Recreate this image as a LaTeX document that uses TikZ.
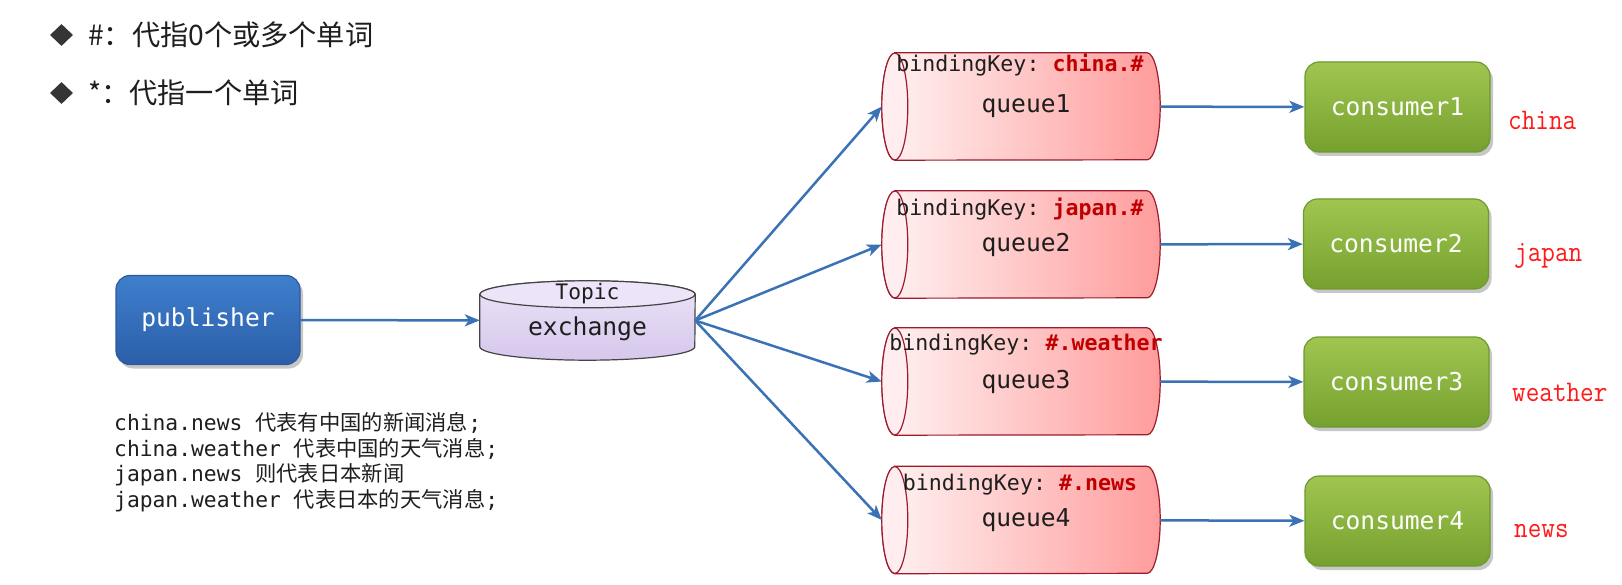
\documentclass[tikz,border=0pt]{standalone}
\usepackage{fontspec}
\setmonofont{DejaVu Sans Mono}
\newfontfamily\cjkfont{Noto Sans CJK SC}
\newfontfamily\tagfont[FakeStretch=0.88]{Latin Modern Mono}
\usetikzlibrary{shapes.geometric,arrows.meta,shadows,backgrounds,calc}

\definecolor{flowblue}{HTML}{3B72B5}
\definecolor{pubtop}{HTML}{3F7FCD}
\definecolor{pubbot}{HTML}{2B5EA8}
\definecolor{pubedge}{HTML}{2C5A9A}
\definecolor{constop}{HTML}{A0C650}
\definecolor{consbot}{HTML}{76A02F}
\definecolor{consedge}{HTML}{6E9A2E}
\definecolor{qleft}{HTML}{FFF3F3}
\definecolor{qright}{HTML}{FF9C9C}
\definecolor{qface}{HTML}{FFEDEF}
\definecolor{qedge}{HTML}{9B1C2C}
\definecolor{extop}{HTML}{ECE4F8}
\definecolor{exbot}{HTML}{D6C7EC}
\definecolor{exedge}{HTML}{444444}
\definecolor{keyred}{HTML}{C00000}
\definecolor{tagred}{HTML}{FF1A1A}
\definecolor{inkgray}{HTML}{1E1E1E}

% horizontal queue cylinder with its open face on the left
\newcommand\drawqueue[1]{%
  \path[left color=qleft, right color=qright, draw=qedge, line width=1.2pt]
    ($(#1.north west)+(13pt,0)$) -- ($(#1.north east)+(-13pt,0)$)
    arc[start angle=90, end angle=-90, x radius=13pt, y radius=53.5pt]
    -- ($(#1.south west)+(13pt,0)$)
    arc[start angle=270, end angle=90, x radius=13pt, y radius=53.5pt] -- cycle;
  \filldraw[fill=qface, draw=qedge, line width=1.2pt]
    ($(#1.west)+(13pt,0)$) ellipse[x radius=13pt, y radius=53.5pt];
}

\begin{document}
\begin{tikzpicture}[x=1pt, y=1pt,
  bigbox/.style={rounded corners=14pt, inner sep=0pt, text=white,
    font=\ttfamily\fontsize{24.6}{28}\selectfont,
    drop shadow={shadow xshift=3pt, shadow yshift=-4pt, opacity=0.22, fill=black}},
  pubbox/.style={bigbox, minimum width=184pt, minimum height=89pt,
    top color=pubtop, bottom color=pubbot, draw=pubedge, line width=1.2pt},
  consbox/.style={bigbox, minimum width=185pt, minimum height=90pt,
    top color=constop, bottom color=consbot, draw=consedge, line width=1.2pt},
  qslot/.style={minimum width=278pt, minimum height=107pt, inner sep=0pt,
    font=\ttfamily\fontsize{24.6}{28}\selectfont, text=inkgray},
  keytext/.style={inner sep=0pt, font=\ttfamily\fontsize{21.6}{24}\selectfont, text=inkgray},
  tagtext/.style={anchor=west, inner sep=0pt, text=tagred, font=\tagfont\fontsize{30}{32}\selectfont},
  desctext/.style={anchor=west, inner sep=0pt, text=inkgray, font=\ttfamily\fontsize{21.3}{26}\selectfont},
  bullettext/.style={anchor=west, inner sep=0pt, text=inkgray, font=\cjkfont\fontsize{28.2}{31}\selectfont},
  bulletmark/.style={diamond, fill=inkgray!90, minimum width=23pt, minimum height=22pt, inner sep=0pt},
  flow/.style={draw=flowblue, line width=2.5pt, -{Stealth[length=15pt, width=12pt, inset=4pt]}}
]
\useasboundingbox (0,0) rectangle (1622,-585);
\begin{scope}[on background layer]
  \fill[white] (0,0) rectangle (1622,-585);
\end{scope}

% legend for the wildcard characters
\node[bulletmark] (b1) at (61.5,-35) {};
\node[bullettext] (r1) at (88,-35) {\#：代指0个或多个单词};
\node[bulletmark] (b2) at (61.5,-93) {};
\node[bullettext] (r2) at (88,-93) {*：代指一个单词};

% producer and exchange
\node[pubbox] (pub) at (208,-320) {publisher};
\node[minimum width=215pt, minimum height=79pt, inner sep=0pt] (ex) at (587.5,-320.5) {};
\node[inner sep=0pt, text=inkgray, font=\ttfamily\fontsize{21.3}{24}\selectfont] (tp) at (587.5,-294) {Topic};
\node[inner sep=0pt, text=inkgray, font=\ttfamily\fontsize{24.7}{28}\selectfont] (exl) at (587.5,-329) {exchange};

% queues
\node[qslot] (q1) at (1021,-106.5) {\hspace*{10pt}\raisebox{-3pt}{queue1}};
\node[qslot] (q2) at (1021,-244.5) {\hspace*{10pt}\raisebox{-3pt}{queue2}};
\node[qslot] (q3) at (1021,-381.5) {\hspace*{10pt}\raisebox{-3pt}{queue3}};
\node[qslot] (q4) at (1021,-520)   {\hspace*{10pt}\raisebox{-3pt}{queue4}};

\node[keytext] (k1) at (1020,-65)  {bindingKey: \textcolor{keyred}{\bfseries china.\#}};
\node[keytext] (k2) at (1020,-209) {bindingKey: \textcolor{keyred}{\bfseries japan.\#}};
\node[keytext] (k3) at (1026,-345) {bindingKey: \textcolor{keyred}{\bfseries \#.weather}};
\node[keytext] (k4) at (1020,-485) {bindingKey: \textcolor{keyred}{\bfseries \#.news}};

% consumers
\node[consbox] (c1) at (1397.5,-107) {consumer1};
\node[consbox] (c2) at (1396,-244)   {consumer2};
\node[consbox] (c3) at (1396.5,-382) {consumer3};
\node[consbox] (c4) at (1397.5,-521) {consumer4};

\node[tagtext] (t1) at (1508,-120) {china};
\node[tagtext] (t2) at (1514,-256) {japan};
\node[tagtext] (t3) at (1512,-392) {weather};
\node[tagtext] (t4) at (1514,-531) {news};

% routing keys
\node[desctext] (d1) at (114,-423) {china.news {\cjkfont 代表有中国的新闻消息};};
\node[desctext] (d2) at (114,-449) {china.weather {\cjkfont 代表中国的天气消息};};
\node[desctext] (d3) at (114,-475) {japan.news {\cjkfont 则代表日本新闻}};
\node[desctext] (d4) at (114,-501) {japan.weather {\cjkfont 代表日本的天气消息};};

% cylinder bodies behind the labels
\begin{scope}[on background layer]
  \path[top color=extop, bottom color=exbot, draw=exedge, line width=1.2pt]
    ($(ex.north west)+(0,-13.5pt)$) -- ($(ex.south west)+(0,13.5pt)$)
    arc[start angle=180, end angle=360, x radius=107.5pt, y radius=13.5pt]
    -- ($(ex.north east)+(0,-13.5pt)$)
    arc[start angle=0, end angle=180, x radius=107.5pt, y radius=13.5pt] -- cycle;
  \filldraw[fill=extop, draw=exedge, line width=1.2pt]
    ($(ex.north)+(0,-13.5pt)$) ellipse[x radius=107.5pt, y radius=13.5pt];
  \drawqueue{q1}
  \drawqueue{q2}
  \drawqueue{q3}
  \drawqueue{q4}
\end{scope}

% message flow
\draw[flow] (pub) -- (ex);
\draw[flow] (ex.east) -- (q1.west);
\draw[flow] (ex.east) -- (q2.west);
\draw[flow] (ex.east) -- (q3.west);
\draw[flow] (ex.east) -- (q4.west);
\draw[flow] (q1) -- (c1);
\draw[flow] (q2) -- (c2);
\draw[flow] (q3) -- (c3);
\draw[flow] (q4) -- (c4);
\end{tikzpicture}
\end{document}
